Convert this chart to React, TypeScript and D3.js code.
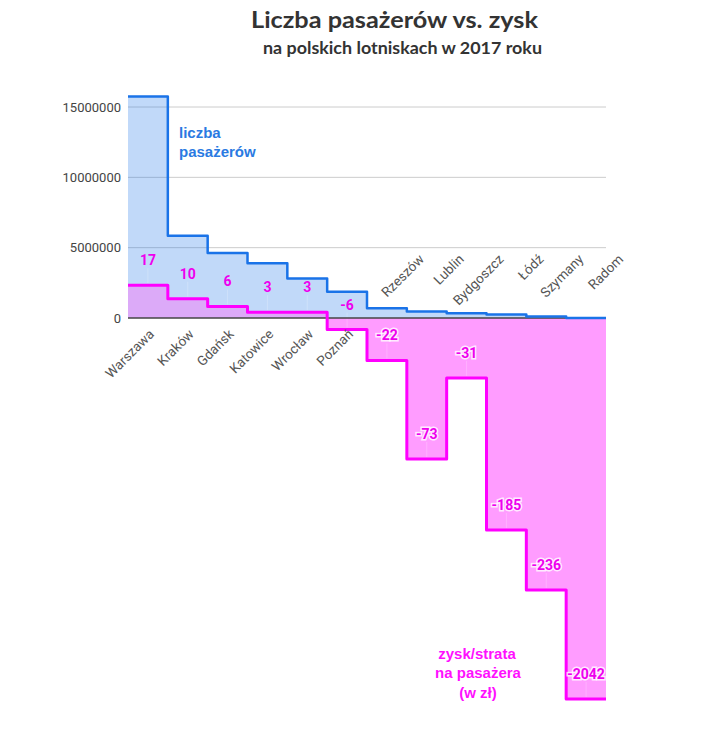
import * as d3 from "d3"
import { useEffect, useRef } from "react"

// airports, 2017
const airports = ["Warszawa", "Kraków", "Gdańsk", "Katowice", "Wrocław", "Poznań", "Rzeszów", "Lublin", "Bydgoszcz", "Łódź", "Szymany", "Radom"]
const passengers = [15750000, 5840000, 4620000, 3900000, 2800000, 1860000, 690000, 460000, 340000, 240000, 110000, 5000]
const profitPerPassenger = [17, 10, 6, 3, 3, -6, -22, -73, -31, -185, -236, -2042]
const yTicks = [0, 5000000, 10000000, 15000000]
// the profit axis is compressed below these values (broken scale in the original)
const profitBreaks = [-2042, -236, -185, -73, 0]

const W = 711
const H = 729

export default function App() {
  const svgRef = useRef<SVGSVGElement>(null)

  useEffect(() => {
    if (!svgRef.current) return
    const root = d3.select(svgRef.current)
    root.selectAll("*").remove()

    const left = 128
    const right = 606
    const top = 107
    const zeroY = 318

    const x = d3.scaleBand().domain(airports).range([left, right]).padding(0)
    const y = d3.scaleLinear().domain([0, 15000000]).range([zeroY, top])
    const py = d3
      .scaleLinear()
      .domain(profitBreaks)
      .range([zeroY + 381, zeroY + 272, zeroY + 212, zeroY + 141, zeroY])

    const defs = root.append("defs")
    defs.append("clipPath").attr("id", "above").append("rect")
      .attr("x", 0).attr("y", 0).attr("width", W).attr("height", zeroY)
    defs.append("clipPath").attr("id", "below").append("rect")
      .attr("x", 0).attr("y", zeroY).attr("width", W).attr("height", H - zeroY)

    // Title
    root.append("text")
      .attr("x", 394.5).attr("y", 28)
      .attr("text-anchor", "middle")
      .attr("textLength", 287).attr("lengthAdjust", "spacingAndGlyphs")
      .style("font-family", "Lato, 'Open Sans', sans-serif")
      .style("font-weight", 700).style("font-size", "22px")
      .attr("fill", "#333")
      .text("Liczba pasażerów vs. zysk")
    root.append("text")
      .attr("x", 402.5).attr("y", 54)
      .attr("text-anchor", "middle")
      .attr("textLength", 279).attr("lengthAdjust", "spacingAndGlyphs")
      .style("font-family", "Lato, 'Open Sans', sans-serif")
      .style("font-weight", 700).style("font-size", "17px")
      .attr("fill", "#333")
      .text("na polskich lotniskach w 2017 roku")

    // Gridlines + y labels
    root.append("g").selectAll("line")
      .data(yTicks.filter((t) => t > 0))
      .join("line")
      .attr("x1", left).attr("x2", right)
      .attr("y1", (d) => y(d)).attr("y2", (d) => y(d))
      .attr("stroke", "#cccccc").attr("stroke-width", 1)

    root.append("g").selectAll("text")
      .data(yTicks)
      .join("text")
      .attr("x", 121).attr("y", (d) => y(d))
      .attr("dy", "0.35em")
      .attr("text-anchor", "end")
      .style("font-family", "Roboto, sans-serif").style("font-size", "13px")
      .attr("fill", "#444")
      .text((d) => String(d))

    // step data, with a closing point at the right edge
    const pass = airports.map((a, i) => ({ x: x(a) as number, v: passengers[i] }))
    pass.push({ x: right, v: passengers[passengers.length - 1] })
    const prof = airports.map((a, i) => ({ x: x(a) as number, v: profitPerPassenger[i] }))
    prof.push({ x: right, v: profitPerPassenger[profitPerPassenger.length - 1] })

    const passArea = d3.area<{ x: number; v: number }>()
      .x((d) => d.x).y0(zeroY).y1((d) => y(d.v))
      .curve(d3.curveStepAfter)
    const passLine = d3.line<{ x: number; v: number }>()
      .x((d) => d.x).y((d) => y(d.v))
      .curve(d3.curveStepAfter)
    const profArea = d3.area<{ x: number; v: number }>()
      .x((d) => d.x).y0(zeroY).y1((d) => py(d.v))
      .curve(d3.curveStepAfter)
    const profLine = d3.line<{ x: number; v: number }>()
      .x((d) => d.x).y((d) => py(d.v))
      .curve(d3.curveStepAfter)

    root.append("path").attr("d", passArea(pass))
      .attr("fill", "#1a73e8").attr("fill-opacity", 0.27)
    root.append("path").attr("d", profArea(prof))
      .attr("clip-path", "url(#above)")
      .attr("fill", "#dcaaf8")
    root.append("path").attr("d", profArea(prof))
      .attr("clip-path", "url(#below)")
      .attr("fill", "#ff9cff")

    // annotation stems
    root.append("g").selectAll("line")
      .data(profitPerPassenger)
      .join("line")
      .attr("x1", (_, i) => (x(airports[i]) as number) + x.bandwidth() / 2)
      .attr("x2", (_, i) => (x(airports[i]) as number) + x.bandwidth() / 2)
      .attr("y1", (d) => py(d) - 17)
      .attr("y2", (d) => py(d) - 2)
      .attr("stroke", "#ffffff").attr("stroke-opacity", 0.22)

    // zero baseline
    root.append("line")
      .attr("x1", left).attr("x2", right)
      .attr("y1", zeroY).attr("y2", zeroY)
      .attr("stroke", "#444").attr("stroke-width", 1.3)

    root.append("path").attr("d", passLine(pass))
      .attr("fill", "none").attr("stroke", "#1a73e8")
      .attr("stroke-width", 2.5).attr("stroke-linejoin", "round")
    root.append("path").attr("d", profLine(prof))
      .attr("fill", "none").attr("stroke", "#ff00ff")
      .attr("stroke-width", 3).attr("stroke-linejoin", "round")

    // value labels
    root.append("g").selectAll("text")
      .data(profitPerPassenger)
      .join("text")
      .attr("x", (_, i) => (x(airports[i]) as number) + x.bandwidth() / 2)
      .attr("y", (d) => py(d) - 20)
      .attr("text-anchor", "middle")
      .style("font-family", "Roboto, sans-serif")
      .style("font-weight", 700).style("font-size", "14px")
      .attr("fill", "#ee00ee")
      .attr("stroke", (d) => (py(d) - 25 > zeroY ? "#ffffff" : "none"))
      .attr("stroke-width", 3).attr("stroke-opacity", 0.8)
      .attr("paint-order", "stroke")
      .text((d) => String(d))

    // category labels, rotated
    root.append("g").selectAll("text")
      .data(airports)
      .join("text")
      .attr("transform", (d, i) => {
        const cx = (x(d) as number) + x.bandwidth() / 2
        return profitPerPassenger[i] > -10
          ? `translate(${cx + 7},${zeroY + 17}) rotate(-45)`
          : `translate(${cx + 38},${zeroY - 58}) rotate(-45)`
      })
      .attr("text-anchor", "end")
      .style("font-family", "Roboto, sans-serif").style("font-size", "13.5px")
      .attr("fill", "#555")
      .text((d) => d)

    // series notes
    const blueNote = root.append("text")
      .style("font-family", "'Liberation Sans', Arial, sans-serif")
      .style("font-weight", 700).style("font-size", "15px")
      .attr("fill", "#2a7ae2")
    blueNote.append("tspan").attr("x", 179).attr("y", 138).text("liczba")
    blueNote.append("tspan").attr("x", 179).attr("y", 157).text("pasażerów")

    const pinkNote = root.append("text")
      .attr("text-anchor", "middle")
      .style("font-family", "'Liberation Sans', Arial, sans-serif")
      .style("font-weight", 700).style("font-size", "15px")
      .attr("fill", "#ff10ff")
    pinkNote.append("tspan").attr("x", 477).attr("y", 659).text("zysk/strata")
    pinkNote.append("tspan").attr("x", 478).attr("y", 678).text("na pasażera")
    pinkNote.append("tspan").attr("x", 478).attr("y", 698).text("(w zł)")
  }, [])

  return (
    <svg
      ref={svgRef}
      width={W}
      height={H}
      style={{ position: "absolute", left: 0, top: 0, background: "#fff" }}
    />
  )
}
